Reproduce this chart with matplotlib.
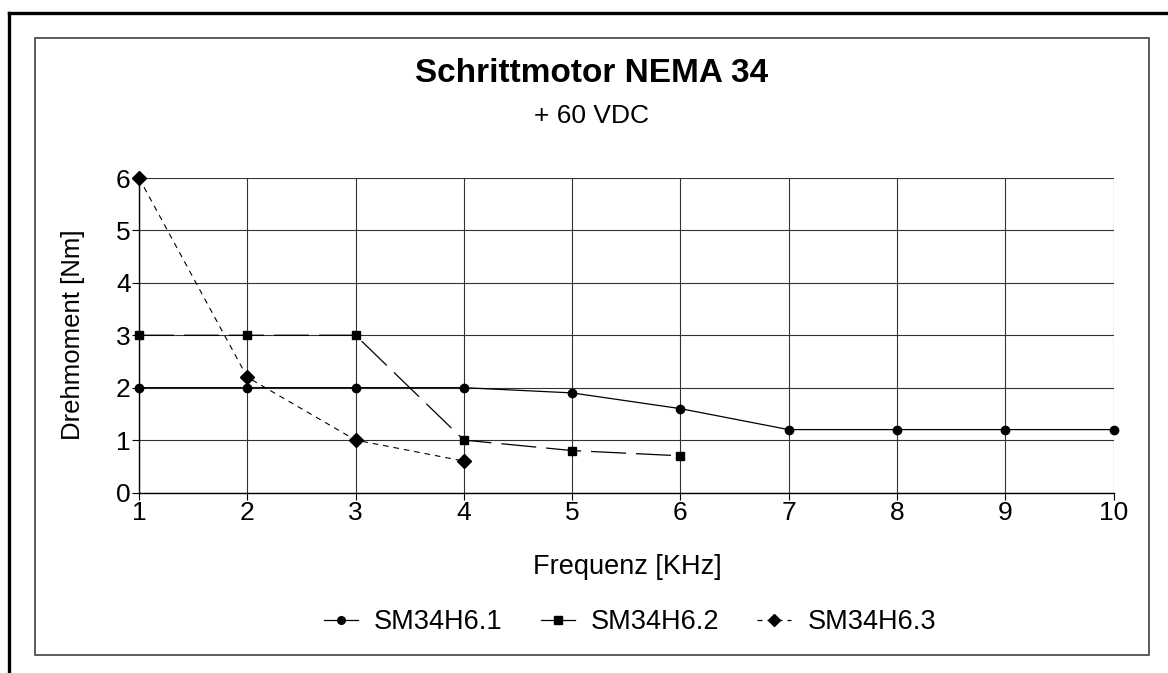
import numpy as np
import matplotlib
matplotlib.use('Agg')
import matplotlib.pyplot as plt
from matplotlib.patches import Rectangle
from matplotlib.lines import Line2D

plt.rcParams['font.family'] = ['Liberation Sans', 'DejaVu Sans']

# Daten
freq = [1, 2, 3, 4, 5, 6, 7, 8, 9, 10]
sm1 = [2.0, 2.0, 2.0, 2.0, 1.9, 1.6, 1.2, 1.2, 1.2, 1.2]
freq2 = [1, 2, 3, 4, 5, 6]
sm2 = [3.0, 3.0, 3.0, 1.0, 0.8, 0.7]
freq3 = [1, 2, 3, 4]
sm3 = [6.0, 2.2, 1.0, 0.6]
names = ['SM34H6.1', 'SM34H6.2', 'SM34H6.3']
yticks = [0, 1, 2, 3, 4, 5, 6]

fig = plt.figure(figsize=(11.68, 6.73), dpi=100)
W, H = 1168.0, 673.0

# Rahmen
fig.add_artist(Line2D([9 / W, 9 / W], [0, 1 - 13 / H], color='black', lw=2.4))
fig.add_artist(Line2D([9 / W, 1], [1 - 13 / H, 1 - 13 / H], color='black', lw=2.4))
fig.add_artist(Rectangle((35 / W, 1 - 655 / H), (1149 - 35) / W, (655 - 38) / H,
                         fill=False, ec='#404040', lw=1.2))

ax = fig.add_axes([139 / W, 1 - 492.5 / H, (1113.5 - 139) / W, (492.5 - 178) / H])
ax.set_xlim(1, 10)
ax.set_ylim(0, 6)
ax.set_xticks(freq)
ax.set_yticks(yticks)
ax.grid(True, color='0.2', lw=0.8)
ax.set_axisbelow(True)
for s in ['top', 'right']:
    ax.spines[s].set_visible(False)
for s in ['left', 'bottom']:
    ax.spines[s].set_color('black')
    ax.spines[s].set_linewidth(1.0)
ax.tick_params(direction='out', length=5, width=0.8, labelsize=19, pad=1, colors='black')

ax.plot(freq, sm1, '-', color='black', lw=0.9, marker='o', ms=6, clip_on=False)
ax.plot(freq2, sm2, color='black', lw=0.9, dashes=(28, 8), marker='s', ms=6, clip_on=False)
ax.plot(freq3, sm3, color='black', lw=0.8, dashes=(5, 4.5), marker='D', ms=7, clip_on=False)

fig.text(592 / W, 1 - 74 / H, 'Schrittmotor NEMA 34', ha='center', va='center',
         fontsize=24, fontweight='bold')
fig.text(592 / W, 1 - 116 / H, '+ 60 VDC', ha='center', va='center', fontsize=19)
fig.text(627 / W, 1 - 567 / H, 'Frequenz [KHz]', ha='center', va='center', fontsize=19.5)
fig.text(73 / W, 1 - 335 / H, 'Drehmoment [Nm]', ha='center', va='center',
         fontsize=18.5, rotation=90)

handles = [
    Line2D([], [], color='black', lw=0.9, marker='o', ms=5.5),
    Line2D([], [], color='black', lw=0.9, marker='s', ms=5.5),
    Line2D([], [], color='black', lw=0.9, marker='D', ms=6, dashes=(4, 4)),
]
fig.legend(handles, names, loc='center', bbox_to_anchor=(630 / W, 1 - 622 / H),
           ncol=3, frameon=False, fontsize=19.5, handlelength=1.25, handletextpad=0.6,
           columnspacing=1.4)

fig.savefig('out.png', dpi=100)
